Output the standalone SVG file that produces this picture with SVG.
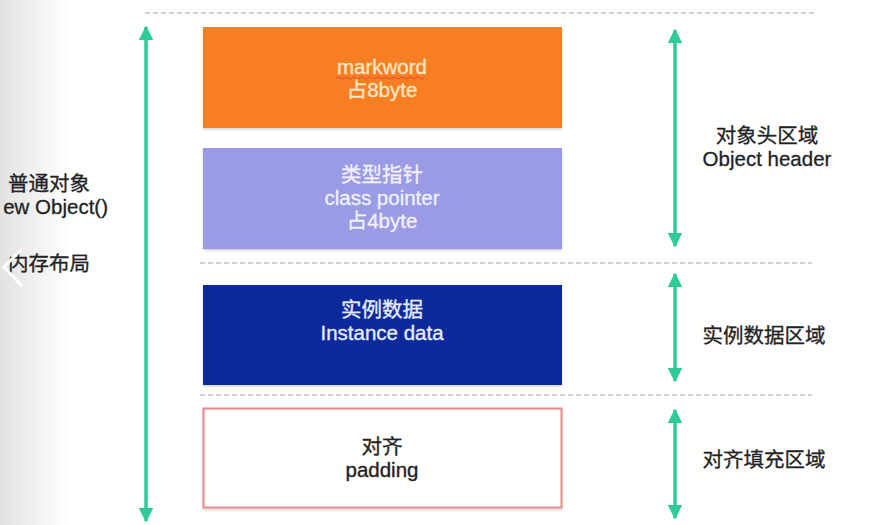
<svg xmlns="http://www.w3.org/2000/svg" width="886" height="525" viewBox="0 0 886 525">
<style>
.t{font-family:"Liberation Sans","Noto Sans CJK SC",Arial,sans-serif;font-size:20.5px;text-anchor:middle;stroke-width:0.35}
.lbl{font-family:"Liberation Sans","Noto Sans CJK SC",Arial,sans-serif;font-size:20.5px;fill:#222;stroke:#222;stroke-width:0.3}
.dot{stroke:#c4c4c4;stroke-width:1.6;stroke-dasharray:5 3;fill:none}
.arr{stroke:#2ecb98;stroke-width:3.5;fill:none;marker-start:url(#ah);marker-end:url(#ah)}
</style>
<defs>
<linearGradient id="lg" x1="0" y1="0" x2="1" y2="0">
<stop offset="0" stop-color="#e2e2e2"/>
<stop offset="1" stop-color="#ffffff"/>
</linearGradient>
<marker id="ah" viewBox="0 0 10 10" refX="9" refY="5" markerWidth="4.2" markerHeight="4.2" orient="auto-start-reverse" markerUnits="strokeWidth">
<path d="M0,0 L10,5 L0,10 z" fill="#2ecb98"/>
</marker>
<filter id="sh" x="-5%" y="-5%" width="110%" height="115%">
<feDropShadow dx="0" dy="1.5" stdDeviation="1.2" flood-color="#000" flood-opacity="0.18"/>
</filter>
</defs>
<rect x="0" y="0" width="886" height="525" fill="#ffffff"/>
<rect x="0" y="0" width="70" height="525" fill="url(#lg)"/>
<g id="left-label">
<text class="lbl" x="49" y="191" text-anchor="middle">普通对象</text>
<text class="lbl" x="108" y="214" text-anchor="end">ew Object()</text>
<text class="lbl" x="49" y="271" text-anchor="middle">内存布局</text>
<path d="M22,249 L4,267 L22,286" fill="none" stroke="#ffffff" stroke-width="3"/>
</g>
<g id="dividers">
<line class="dot" x1="145" y1="13" x2="817" y2="13"/>
<line class="dot" x1="200" y1="263" x2="812" y2="263"/>
<line class="dot" x1="200" y1="395" x2="812" y2="395"/>
</g>
<g id="markword">
<rect x="203" y="27" width="359" height="101" fill="#f87e20" filter="url(#sh)"/>
<text class="t" x="382" y="74" fill="#fde6c6" stroke="#fde6c6">markword</text>
<path d="M336,78 q2,-2 4,0 t4,0 t4,0 t4,0 t4,0 t4,0 t4,0 t4,0 t4,0 t4,0 t4,0 t4,0 t4,0 t4,0 t4,0 t4,0 t4,0 t4,0 t4,0 t4,0 t4,0 t4,0" fill="none" stroke="#e0503a" stroke-width="1"/>
<text class="t" x="382" y="97" fill="#fde6c6" stroke="#fde6c6">占8byte</text>
</g>
<g id="class-pointer">
<rect x="203" y="148" width="359" height="101" fill="#9b9ae4" filter="url(#sh)"/>
<text class="t" x="382" y="182" fill="#f0f0fd" stroke="#f0f0fd">类型指针</text>
<text class="t" x="382" y="205" fill="#f0f0fd" stroke="#f0f0fd">class pointer</text>
<text class="t" x="382" y="228" fill="#f0f0fd" stroke="#f0f0fd">占4byte</text>
</g>
<g id="instance-data">
<rect x="203" y="285" width="359" height="100" fill="#0b2a9c" filter="url(#sh)"/>
<text class="t" x="382" y="317" fill="#e6ecff" stroke="#e6ecff">实例数据</text>
<text class="t" x="382" y="340" fill="#e6ecff" stroke="#e6ecff">Instance data</text>
</g>
<g id="padding">
<rect x="203.5" y="408.5" width="358" height="99" fill="#ffffff" stroke="#e98a8a" stroke-width="2" filter="url(#sh)"/>
<text class="t" x="382" y="454" fill="#222" stroke="#222">对齐</text>
<text class="t" x="382" y="477" fill="#222" stroke="#222">padding</text>
</g>
<g id="connectors">
<line class="arr" x1="146" y1="27" x2="146" y2="521"/>
<line class="arr" x1="675" y1="30" x2="675" y2="246"/>
<line class="arr" x1="675" y1="274" x2="675" y2="381"/>
<line class="arr" x1="675" y1="410" x2="675" y2="518"/>
</g>
<g id="region-labels">
<text class="lbl" x="767" y="143" text-anchor="middle">对象头区域</text>
<text class="lbl" x="767" y="166" text-anchor="middle">Object header</text>
<text class="lbl" x="764" y="343" text-anchor="middle">实例数据区域</text>
<text class="lbl" x="764" y="467" text-anchor="middle">对齐填充区域</text>
</g>
</svg>
